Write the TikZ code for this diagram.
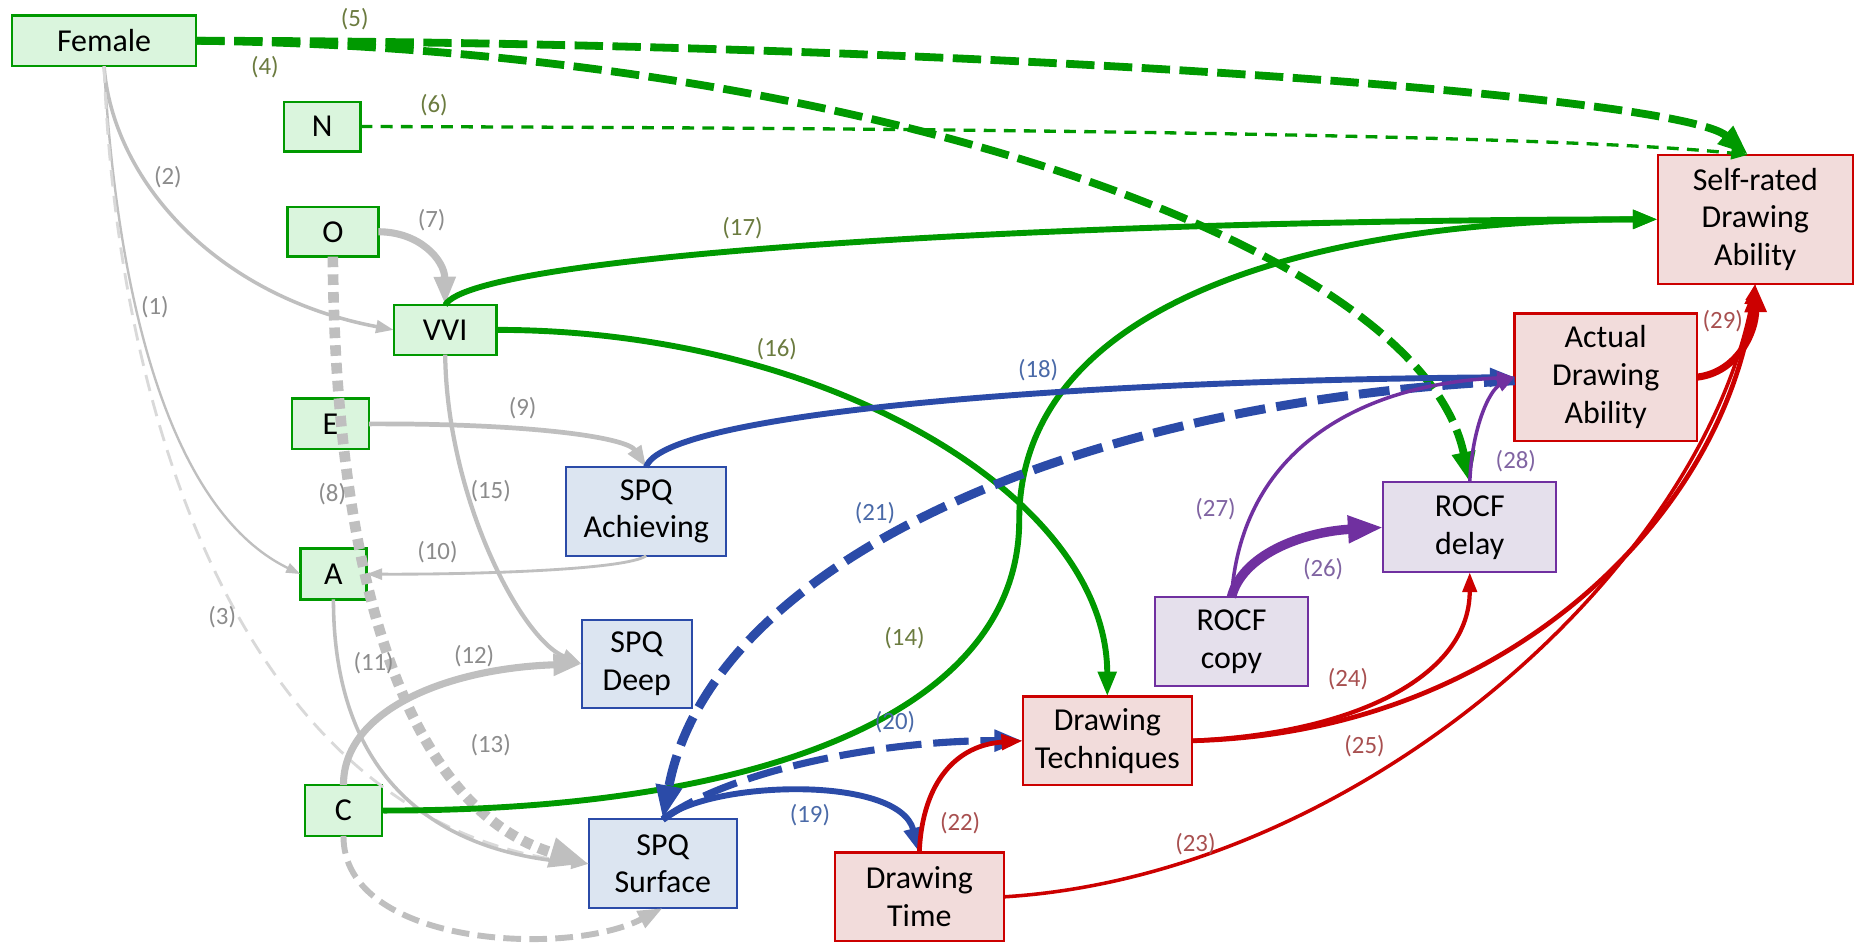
\documentclass[tikz,border=0pt]{standalone}
\usepackage{fontspec}
\setmainfont{Carlito}
\usetikzlibrary{arrows.meta,calc}
\definecolor{grn}{HTML}{009900}
\definecolor{grnfill}{HTML}{DAF5DD}
\definecolor{gry}{HTML}{BFBFBF}
\definecolor{lgry}{HTML}{D9D9D9}
\definecolor{blu}{HTML}{2B4BA8}
\definecolor{blufill}{HTML}{DCE5F1}
\definecolor{rd}{HTML}{CC0000}
\definecolor{rdfill}{HTML}{F2DCDB}
\definecolor{pur}{HTML}{7030A0}
\definecolor{purfill}{HTML}{E5E0EC}
\definecolor{labgry}{HTML}{8C8C8C}
\definecolor{labgrn}{HTML}{6B7B3F}
\definecolor{labblu}{HTML}{4A6AA8}
\definecolor{labrd}{HTML}{A85050}
\definecolor{labpur}{HTML}{8064A2}
\tikzset{
  box/.style={draw, rectangle, inner sep=0pt, outer sep=0pt, align=center,
    font=\fontsize{13.5}{16}\selectfont},
  gbox/.style={box, draw=grn, fill=grnfill, line width=1pt},
  bbox/.style={box, draw=blu, fill=blufill, line width=0.8pt},
  rbox/.style={box, draw=rd, fill=rdfill, line width=1pt},
  pbox/.style={box, draw=pur, fill=purfill, line width=0.8pt},
  lab/.style={inner sep=0pt, font=\fontsize{10.5}{12}\selectfont},
  arr/.style={-{Triangle[length=3pt 3, width=2pt 2.2]}},
  ge/.style={arr, draw=gry},
  gne/.style={arr, draw=grn},
  be/.style={arr, draw=blu},
  re/.style={arr, draw=rd},
  pe/.style={arr, draw=pur},
  bigdash/.style={dash pattern=on 12pt off 4pt},
}
\begin{document}
\begin{tikzpicture}[x=0.5pt,y=-0.5pt]
\useasboundingbox (0,0) rectangle (1568,797);

% nodes
\node[gbox, minimum width=78pt, minimum height=21.5pt] (fem) at (88,34.5) {Female};
\node[gbox, minimum width=32.5pt, minimum height=21pt] (N) at (272.5,107) {N};
\node[gbox, minimum width=38.5pt, minimum height=21pt] (O) at (281.5,196) {O};
\node[gbox, minimum width=43.5pt, minimum height=21pt] (vvi) at (376.5,279) {VVI};
\node[gbox, minimum width=32.5pt, minimum height=21.5pt] (E) at (279.5,358.5) {E};
\node[gbox, minimum width=28pt, minimum height=21.5pt] (A) at (282,485.5) {A};
\node[gbox, minimum width=32.5pt, minimum height=21.5pt] (C) at (290.5,685.5) {C};
\node[bbox, minimum width=67.5pt, minimum height=37.5pt] (ach) at (546.5,432.5) {SPQ\\Achieving};
\node[bbox, minimum width=46.5pt, minimum height=37.5pt] (deep) at (538.5,561.5) {SPQ\\Deep};
\node[bbox, minimum width=62.5pt, minimum height=37.5pt] (surf) at (560.5,730.5) {SPQ\\Surface};
\node[rbox, minimum width=71.5pt, minimum height=37.5pt] (tech) at (936.5,626.5) {Drawing\\Techniques};
\node[rbox, minimum width=71.5pt, minimum height=37.5pt] (time) at (777.5,758.5) {Drawing\\Time};
\node[pbox, minimum width=64.5pt, minimum height=37.5pt] (copy) at (1041.5,542.5) {ROCF\\copy};
\node[pbox, minimum width=73pt, minimum height=38pt] (delay) at (1243,446) {ROCF\\delay};
\node[rbox, minimum width=77pt, minimum height=54pt] (act) at (1358,319) {Actual\\Drawing\\Ability};
\node[rbox, minimum width=82.5pt, minimum height=54.5pt] (self) at (1484.5,185.5) {Self-rated\\Drawing\\Ability};

% gray edges
\draw[ge, line width=1pt] (fem.south) .. controls (102,300) and (160,440) .. (A.west);
\draw[ge, line width=1.5pt] (fem.south) .. controls (95,150) and (180,250) .. (vvi.west);
\draw[arr, draw=lgry, line width=1.2pt, dash pattern=on 7pt off 4pt] (fem.south) .. controls (100,380) and (220,700) .. (surf.west);
\draw[ge, line width=3pt] (O.east) .. controls (355,196) and (376,220) .. (vvi.north);
\draw[ge, line width=4.5pt, dash pattern=on 4.5pt off 3pt] (O.south) .. controls (283,450) and (330,680) .. (surf.west);
\draw[ge, line width=2pt] (E.east) .. controls (450,358) and (530,370) .. (ach.north);
\draw[ge, line width=1.2pt] (ach.south) .. controls (530,482) and (400,486) .. (A.east);
\draw[ge, line width=1.5pt] (A.south) .. controls (282,650) and (360,720) .. (surf.west);
\draw[ge, line width=3pt] (C.north) .. controls (290,600) and (380,565) .. (deep.west);
\draw[ge, line width=2.5pt, dash pattern=on 7.5pt off 3.5pt] (C.south) .. controls (290,800) and (480,810) .. (surf.south);
\draw[ge, line width=1.8pt] (vvi.south) .. controls (378,420) and (440,540) .. (deep.west);

% green edges
\draw[gne, line width=3.3pt, bigdash] (fem.east) .. controls (700,40) and (1200,200) .. (delay.north);
\draw[gne, line width=1.4pt, dash pattern=on 5pt off 3.5pt] (N.east) .. controls (700,108) and (1300,112) .. ($(self.north)+(-6,0)$);
\draw[gne, line width=3.3pt, bigdash] (fem.east) .. controls (800,35) and (1420,80) .. ($(self.north)+(-6,0)$);
\draw[gne, line width=2.5pt] (C.east) .. controls (650,686) and (862,600) .. (862,440) .. controls (862,260) and (1100,186) .. (self.west);
\draw[gne, line width=2.5pt] (vvi.east) .. controls (700,279) and (936,420) .. (tech.north);
\draw[gne, line width=2.5pt] (vvi.north) .. controls (400,215) and (900,186) .. (self.west);

% blue edges
\draw[be, line width=2.5pt] (ach.north) .. controls (560,350) and (900,322) .. (act.west);
\draw[be, line width=2.5pt] (surf.north) .. controls (600,660) and (760,655) .. (time.north);
\draw[be, line width=3pt, dash pattern=on 15pt off 5pt] (surf.north) .. controls (620,650) and (750,626) .. (tech.west);
\draw[be, line width=3.8pt, dash pattern=on 13pt off 4.7pt] ($(act.west)+(0,3)$) .. controls (900,340) and (600,480) .. (surf.north);

% red edges
\draw[re, line width=2pt] (time.north) .. controls (780,660) and (810,630) .. (tech.west);
\draw[re, line width=1.5pt] (time.east) .. controls (1150,740) and (1440,480) .. (self.south);
\draw[re, line width=1.8pt] (tech.east) .. controls (1150,620) and (1243,570) .. (delay.south);
\draw[re, line width=2pt] (tech.east) .. controls (1280,620) and (1460,430) .. (self.south);
\draw[re, line width=3pt] (act.east) .. controls (1470,315) and (1485,280) .. (self.south);

% purple edges
\draw[pe, line width=4pt] (copy.north) .. controls (1050,470) and (1100,450) .. (delay.west);
\draw[pe, line width=1.5pt] (copy.north) .. controls (1050,380) and (1150,325) .. (act.west);
\draw[pe, line width=1.5pt] (delay.north) .. controls (1245,360) and (1260,330) .. (act.west);

% labels
\node[lab, text=labgry] (l1) at (131,260) {(1)};
\node[lab, text=labgry] (l2) at (142,150) {(2)};
\node[lab, text=labgry] (l3) at (188,522) {(3)};
\node[lab, text=labgrn] (l4) at (224,57) {(4)};
\node[lab, text=labgrn] (l5) at (300,16) {(5)};
\node[lab, text=labgrn] (l6) at (367,89) {(6)};
\node[lab, text=labgry] (l7) at (365,186) {(7)};
\node[lab, text=labgry] (l8) at (281,418) {(8)};
\node[lab, text=labgry] (l9) at (442,345) {(9)};
\node[lab, text=labgry] (l10) at (370,467) {(10)};
\node[lab, text=labgry] (l11) at (316,561) {(11)};
\node[lab, text=labgry] (l12) at (401,555) {(12)};
\node[lab, text=labgry] (l13) at (415,630) {(13)};
\node[lab, text=labgrn] (l14) at (765,540) {(14)};
\node[lab, text=labgry] (l15) at (415,415) {(15)};
\node[lab, text=labgrn] (l16) at (657,295) {(16)};
\node[lab, text=labgrn] (l17) at (628,193) {(17)};
\node[lab, text=labblu] (l18) at (878,313) {(18)};
\node[lab, text=labblu] (l19) at (685,689) {(19)};
\node[lab, text=labblu] (l20) at (757,611) {(20)};
\node[lab, text=labblu] (l21) at (740,434) {(21)};
\node[lab, text=labrd] (l22) at (812,696) {(22)};
\node[lab, text=labrd] (l23) at (1011,714) {(23)};
\node[lab, text=labrd] (l24) at (1140,574) {(24)};
\node[lab, text=labrd] (l25) at (1154,631) {(25)};
\node[lab, text=labpur] (l26) at (1119,481) {(26)};
\node[lab, text=labpur] (l27) at (1028,431) {(27)};
\node[lab, text=labpur] (l28) at (1282,390) {(28)};
\node[lab, text=labrd] (l29) at (1457,272) {(29)};
\end{tikzpicture}
\end{document}
